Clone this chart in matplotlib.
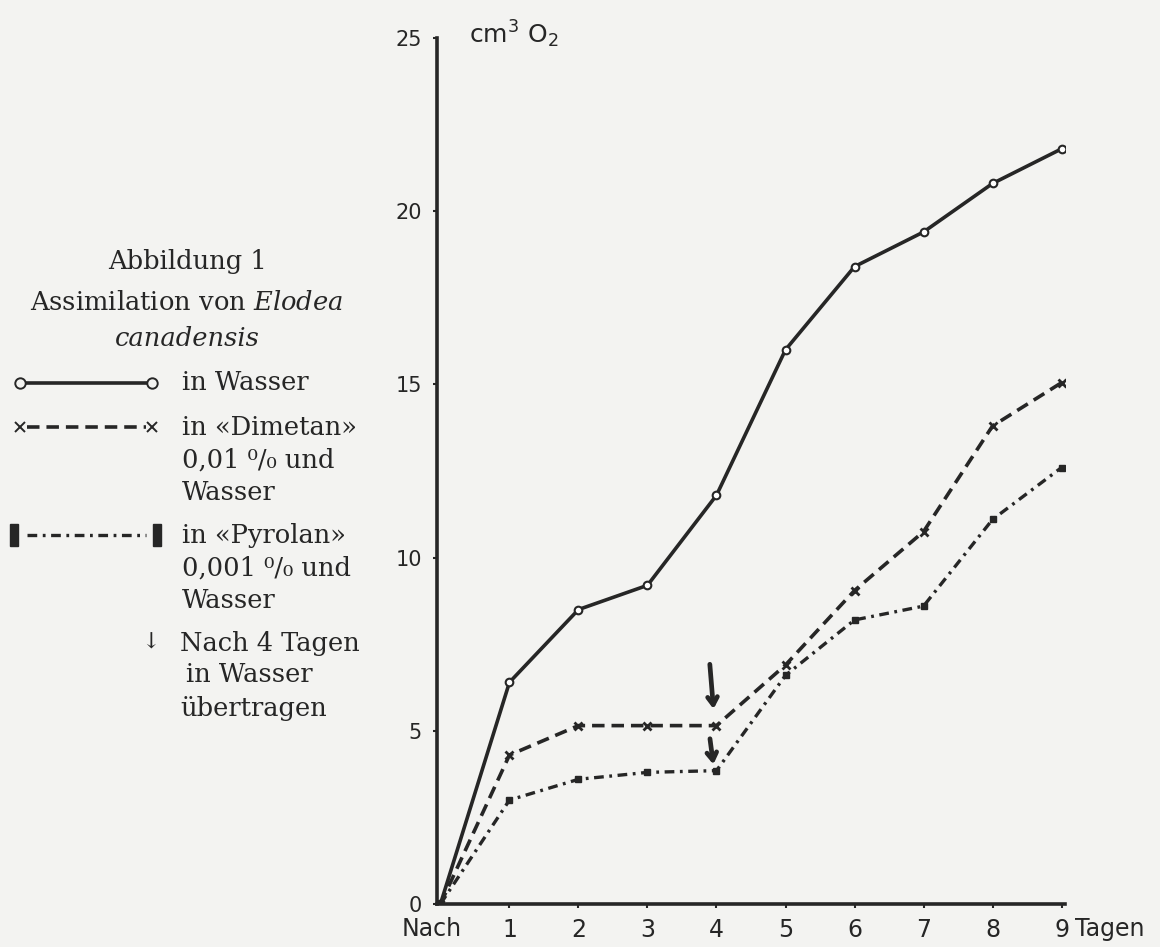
import numpy as np
import matplotlib
matplotlib.use("Agg")
import matplotlib.pyplot as plt
from matplotlib.lines import Line2D

# data (cm3 O2 after n days)
tage = [0, 1, 2, 3, 4, 5, 6, 7, 8, 9]
wasser = [0, 6.4, 8.5, 9.2, 11.8, 16.0, 18.4, 19.4, 20.8, 21.8]
dimetan = [0, 4.3, 5.15, 5.15, 5.15, 6.9, 9.05, 10.75, 13.8, 15.05]
pyrolan = [0, 3.0, 3.6, 3.8, 3.85, 6.6, 8.2, 8.6, 11.1, 12.6]
y_ticks = [0, 5, 10, 15, 20, 25]
x_ticks = [1, 2, 3, 4, 5, 6, 7, 8, 9]
umsetzen_tag = 4

ink = "#262626"
paper = "#f3f3f1"
plt.rcParams['lines.scale_dashes'] = False
plt.rcParams['mathtext.fontset'] = 'custom'
plt.rcParams['mathtext.rm'] = 'DejaVu Serif'
plt.rcParams['mathtext.it'] = 'DejaVu Serif:italic'
serif = ['DejaVu Serif']

st_w = dict(color=ink, lw=2.6, ls='-', marker='o', ms=5.5, mfc='white', mec=ink, mew=1.5)
st_d = dict(color=ink, lw=2.6, ls=(0, (9, 5)), marker='x', ms=6, mew=2.0, mec=ink)
st_p = dict(color=ink, lw=2.4, ls=(0, (7, 4, 2, 4)), marker='s', ms=5, mfc=ink, mec=ink)

fig = plt.figure(figsize=(11.6, 9.47), dpi=100, facecolor=paper)
W, H = 1160, 947
ax = fig.add_axes([437 / W, 43 / H, 628 / W, 866 / H])
ax.set_facecolor(paper)

ax.plot(tage, wasser, **st_w)
ax.plot(tage, dimetan, **st_d)
ax.plot(tage, pyrolan, **st_p)

# arrows: transferred to water after 4 days
i4 = tage.index(umsetzen_tag)
for serie, top, tip in [(dimetan, 1.85, 0.4), (pyrolan, 1.0, 0.1)]:
    ax.annotate("", xy=(umsetzen_tag - 0.04, serie[i4] + tip),
                xytext=(umsetzen_tag - 0.1, serie[i4] + top),
                arrowprops=dict(arrowstyle='->,head_length=0.55,head_width=0.35',
                                color=ink, lw=3.4))

ax.set_xlim(-0.05, 9.05)
ax.set_ylim(0, 25)
for s in ['top', 'right']:
    ax.spines[s].set_visible(False)
for s in ['left', 'bottom']:
    ax.spines[s].set_linewidth(2.6)
    ax.spines[s].set_color(ink)

ax.set_yticks(y_ticks)
ax.set_yticklabels([str(v) for v in y_ticks])
ax.set_xticks(x_ticks)
ax.set_xticklabels([str(v) for v in x_ticks])
ax.tick_params(axis='y', direction='out', length=3, width=1.5, colors=ink,
               labelsize=15, pad=8)
ax.tick_params(axis='x', direction='out', length=3, width=1.5, colors=ink,
               labelsize=17, pad=7)

ax.annotate("Nach", xy=(-0.12, 0), xytext=(0, -9.5), textcoords='offset points',
            ha='center', va='top', fontsize=17, color=ink, annotation_clip=False)
ax.annotate("Tagen", xy=(9.2, 0), xytext=(0, -9.5), textcoords='offset points',
            ha='left', va='top', fontsize=17, color=ink, annotation_clip=False)
ax.text(0.42, 25.1, r"cm$^3$ O$_2$", fontsize=18, color=ink, va='center',
        family='DejaVu Sans', math_fontfamily='dejavusans')

# legend block on the left
def fx(px):
    return px / W

def fy(py):
    return 1 - py / H

tk = dict(family=serif, fontsize=18.5, color=ink)
fig.text(fx(187), fy(262), "Abbildung 1", ha='center', va='center', **tk)
fig.text(fx(187), fy(302), r"Assimilation von $\mathit{Elodea}$", ha='center', va='center', **tk)
fig.text(fx(187), fy(338), "canadensis", ha='center', va='center', style='italic', **tk)

eintraege = [
    (st_w, 383, ["in Wasser"]),
    (st_d, 427, ["in «Dimetan»", "0,01 ⁰/₀ und", "Wasser"]),
    (st_p, 535, ["in «Pyrolan»", "0,001 ⁰/₀ und", "Wasser"]),
]
for st, py, zeilen in eintraege:
    kw = {k: v for k, v in st.items() if k not in ('marker', 'ms', 'mfc', 'mec', 'mew')}
    fig.add_artist(Line2D([fx(27), fx(146)], [fy(py), fy(py)], transform=fig.transFigure, **kw))
    if st['marker'] == 's':
        for x0 in (14, 157):
            fig.add_artist(plt.Rectangle((fx(x0 - 4), fy(py + 11)), 8 / W, 22 / H,
                                         transform=fig.transFigure, color=ink))
    else:
        mk = dict(marker=st['marker'], ms=7.5, mfc=paper, mec=ink, mew=1.4, ls='none')
        fig.add_artist(Line2D([fx(20), fx(152)], [fy(py), fy(py)], transform=fig.transFigure, **mk))
    for j, z in enumerate(zeilen):
        fig.text(fx(182), fy(py + 33 * j), z, ha='left', va='center', **tk)

fig.text(fx(150), fy(643), "↓", ha='center', va='center', family=['DejaVu Serif'], fontsize=16, color=ink)
fig.text(fx(180), fy(643), "Nach 4 Tagen", ha='left', va='center', **tk)
fig.text(fx(186), fy(675), "in Wasser", ha='left', va='center', **tk)
fig.text(fx(180), fy(708), "übertragen", ha='left', va='center', **tk)

fig.savefig("out.png", dpi=100, facecolor=paper)
